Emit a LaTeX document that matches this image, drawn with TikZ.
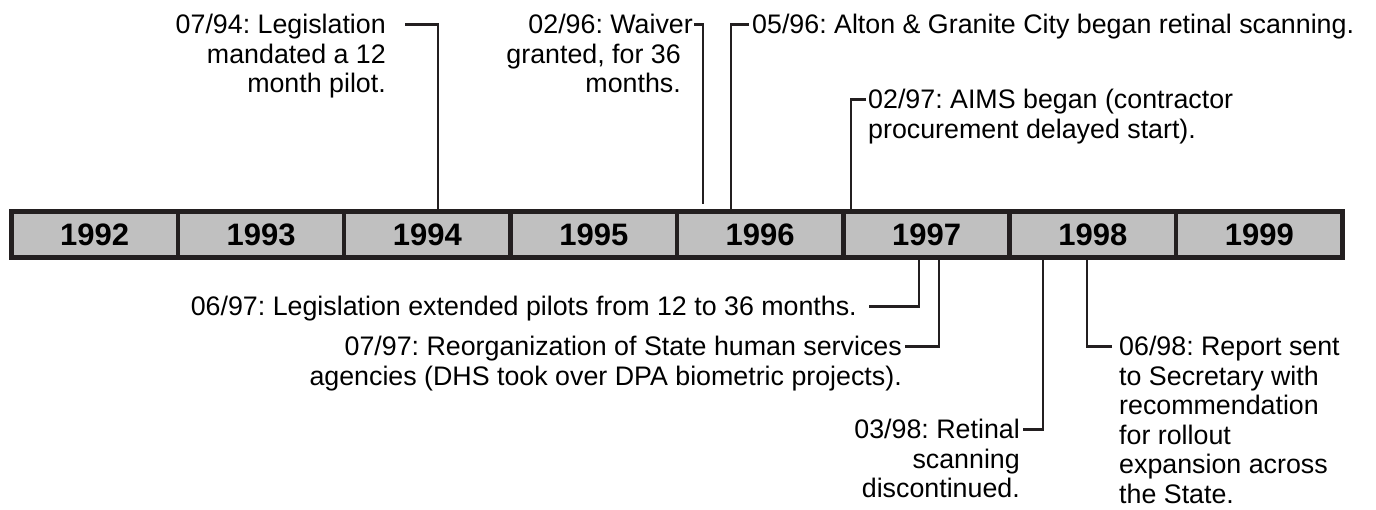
\documentclass[tikz,border=0pt]{standalone}
\usepackage{fontspec}
\setmainfont{Liberation Sans}
\usetikzlibrary{positioning}
\definecolor{cellgray}{RGB}{192,192,192}
\definecolor{inkdark}{RGB}{35,31,32}
\frenchspacing

\begin{document}
\begin{tikzpicture}[
    x=1pt, y=-1pt,
    yearcell/.style={rectangle, draw=inkdark, line width=4.5pt, fill=cellgray, minimum width=166.4pt, minimum height=46pt, inner sep=0pt, outer sep=0pt, font=\fontsize{31}{31}\selectfont\bfseries},
    evtR/.style={align=right, inner sep=0pt, anchor=north east, font=\fontsize{26.8}{29.5}\selectfont},
    evtL/.style={align=left, inner sep=0pt, anchor=north west, font=\fontsize{26.8}{29.5}\selectfont},
    tick/.style={draw=inkdark, line width=2.2pt}
]
\useasboundingbox (0,0) rectangle (1376,510);

% Year bar
\foreach \yr [count=\i from 0] in {1992,...,1999}
    \node[yearcell] (y\yr) at ({11.5+166.375*(\i+0.5)},234.5) {\yr};

% Tick positions on the bar
\coordinate (k9407) at (438,0);
\coordinate (k9602) at (703,0);
\coordinate (k9605) at (731,0);
\coordinate (k9702) at (851,0);
\coordinate (k9706) at (919,0);
\coordinate (k9707) at (939,0);
\coordinate (k9803) at (1043,0);
\coordinate (k9806) at (1087,0);

% Events above the bar
\node[evtR] (e9407) at (386,14) {07/94: Legislation\\mandated a 12\\month pilot.};
\node[evtR] (e9602) at (681,14) {02/96: Waiver\hspace*{-12pt}\\granted, for 36\\months.};
\node[evtL] (e9605) at (752,14) {05/96: Alton \& Granite City began retinal scanning.};
\node[evtL] (e9702) at (868,89) {02/97: AIMS began (contractor\\procurement delayed start).};

% Events below the bar
\node[evtR] (e9706) at (857,296) {06/97: Legislation extended pilots from 12 to 36 months.};
\node[evtR] (e9707) at (902,336) {07/97: Reorganization of State human services\\agencies (DHS took over DPA biometric projects).};
\node[evtR] (e9803) at (1020,419) {03/98: Retinal\\scanning\\discontinued.};
\node[evtL] (e9806) at (1119,336) {06/98: Report sent\\to Secretary with\\recommendation\\for rollout\\expansion across\\the State.};

% Connectors
\draw[tick] ([xshift=19pt,yshift=-10.5pt]e9407.north east) -| (k9407 |- y1994.north);
\draw[tick, shorten >=7pt] ([xshift=13pt,yshift=-10.5pt]e9602.north east) -| (k9602 |- y1996.north);
\draw[tick] ([xshift=-3pt,yshift=-10.5pt]e9605.north west) -| (k9605 |- y1996.north);
\draw[tick] ([xshift=-2pt,yshift=-10.5pt]e9702.north west) -| (k9702 |- y1997.north);
\draw[tick] ([xshift=12pt,yshift=-10.5pt]e9706.north east) -| (k9706 |- y1997.south);
\draw[tick] ([xshift=3pt,yshift=-10.5pt]e9707.north east) -| (k9707 |- y1997.south);
\draw[tick] ([xshift=3pt,yshift=-10.5pt]e9803.north east) -| (k9803 |- y1998.south);
\draw[tick] ([xshift=-7pt,yshift=-10.5pt]e9806.north west) -| (k9806 |- y1998.south);

\end{tikzpicture}
\end{document}
